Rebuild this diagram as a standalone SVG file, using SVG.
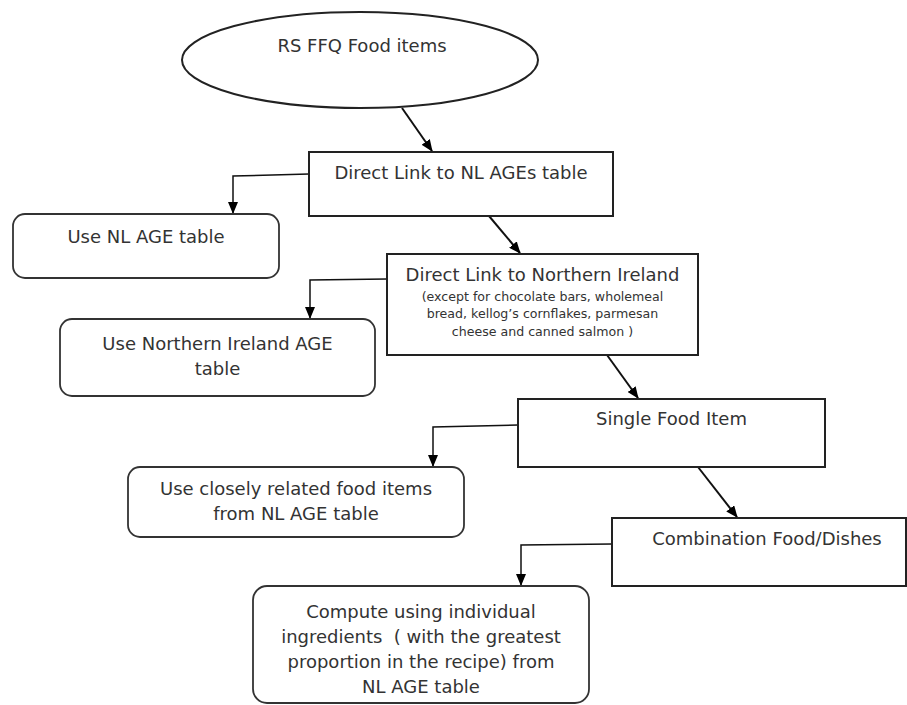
<svg xmlns="http://www.w3.org/2000/svg" width="907" height="705" viewBox="0 0 907 705">
<style>
.t{font-family:"DejaVu Sans",Verdana,sans-serif;font-size:18px;fill:#333;text-anchor:middle;white-space:pre}
.s{font-size:12.6px}
.box{fill:#fff;stroke:#222;stroke-width:2}
.rbox{fill:#fff;stroke:#333;stroke-width:1.8}
.c{fill:none;stroke:#111;stroke-width:1.5}
.d{fill:none;stroke:#111;stroke-width:2}
</style>
<defs>
<marker id="ah" markerUnits="userSpaceOnUse" markerWidth="12" markerHeight="10" refX="11" refY="5" orient="auto">
<path d="M0,0 L12,5 L0,10 z" fill="#000"/>
</marker>
</defs>
<rect width="907" height="705" fill="#fff"/>
<g id="connectors">
<path class="c" d="M309,174 L233,176 L233,213" marker-end="url(#ah)"/>
<path class="c" d="M387,279 L310,280 L310,318" marker-end="url(#ah)"/>
<path class="c" d="M518,425 L433,427 L433,466" marker-end="url(#ah)"/>
<path class="c" d="M612,544 L521,545 L521,585" marker-end="url(#ah)"/>
<path class="d" d="M402,108 L432,151" marker-end="url(#ah)"/>
<path class="d" d="M489,216 L520,253" marker-end="url(#ah)"/>
<path class="d" d="M607,355 L638,398" marker-end="url(#ah)"/>
<path class="d" d="M698,467 L737,517" marker-end="url(#ah)"/>
</g>
<g id="start">
<ellipse class="box" cx="360" cy="60" rx="178" ry="48"/>
<text class="t" x="362" y="52">RS FFQ Food items</text>
</g>
<g id="direct-nl">
<rect class="box" x="309" y="152" width="304" height="64"/>
<text class="t" x="461" y="179">Direct Link to NL AGEs table</text>
</g>
<g id="use-nl">
<rect class="rbox" x="13" y="214" width="266" height="64" rx="12"/>
<text class="t" x="146" y="243">Use NL AGE table</text>
</g>
<g id="direct-ni">
<rect class="box" x="387" y="254" width="311" height="101"/>
<text class="t" x="542.5" y="281">Direct Link to Northern Ireland</text>
<text class="t s" x="542.5" y="300.5">(except for chocolate bars, wholemeal</text>
<text class="t s" x="542.5" y="318">bread, kellog’s cornflakes, parmesan</text>
<text class="t s" x="542.5" y="336">cheese and canned salmon )</text>
</g>
<g id="use-ni">
<rect class="rbox" x="60" y="319" width="315" height="77" rx="12"/>
<text class="t" x="217.5" y="350">Use Northern Ireland AGE</text>
<text class="t" x="217.5" y="375">table</text>
</g>
<g id="single">
<rect class="box" x="518" y="399" width="307" height="68"/>
<text class="t" x="671.5" y="425">Single Food Item</text>
</g>
<g id="use-related">
<rect class="rbox" x="128" y="467" width="336" height="70" rx="12"/>
<text class="t" x="296" y="495">Use closely related food items</text>
<text class="t" x="296" y="520">from NL AGE table</text>
</g>
<g id="combination">
<rect class="box" x="612" y="518" width="294" height="68"/>
<text class="t" x="767" y="545">Combination Food/Dishes</text>
</g>
<g id="compute">
<rect class="rbox" x="253" y="586" width="336" height="117" rx="14"/>
<text class="t" x="421" y="618">Compute using individual</text>
<text class="t" x="421" y="643">ingredients  ( with the greatest</text>
<text class="t" x="421" y="668">proportion in the recipe) from</text>
<text class="t" x="421" y="693">NL AGE table</text>
</g>
</svg>
